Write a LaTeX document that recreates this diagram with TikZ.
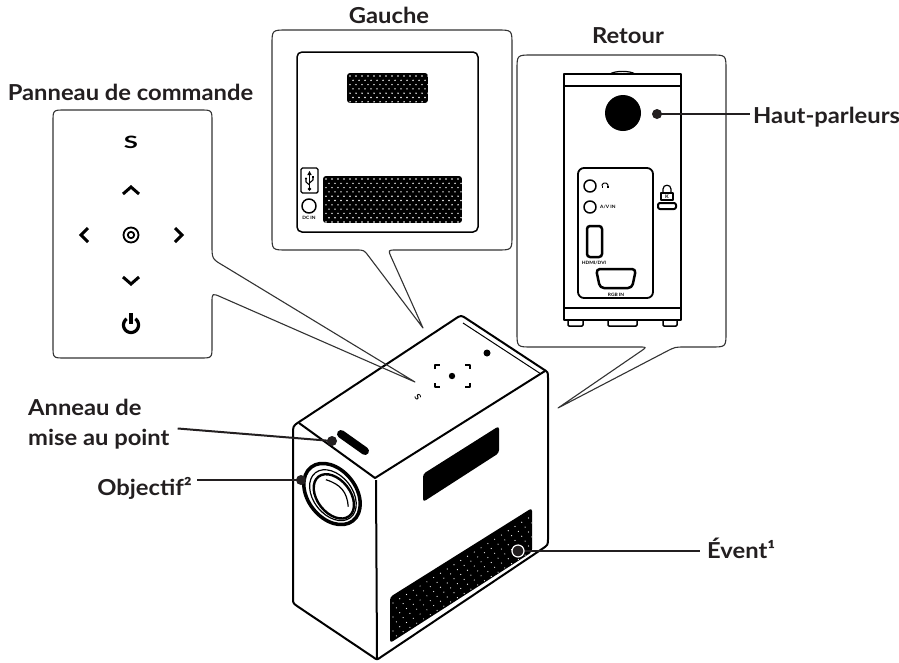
\documentclass[tikz,border=0pt]{standalone}
\usepackage{fontspec}
\usepackage{graphicx}
\setmainfont{Lato}[FakeStretch=1.08]
\usetikzlibrary{calc}
\definecolor{ink}{HTML}{231F20}
\definecolor{cline}{HTML}{333333}
\begin{document}
\begin{tikzpicture}[x=1pt,y=-1pt,line join=round,
  callout/.style={draw=cline,line width=1.1pt},
  edge/.style={draw=black,line width=2pt},
  fine/.style={draw=black,line width=1.5pt},
  lbl/.style={font=\fontsize{22}{25}\selectfont\bfseries,text=ink,inner sep=0pt},
  tinytxt/.style={font=\fontsize{4.5}{5}\selectfont\bfseries,inner sep=0pt},
  leader/.style={draw=ink,line width=2pt},
  chev/.style={draw=black,line width=3pt,line join=miter},
  ldot/.style={fill=ink}]
\fill[white] (0,0) rectangle (899,662);
\useasboundingbox (0,0) rectangle (899,662);

% ---------------- projector body ----------------
\draw[edge,fill=white] (293,434) .. controls (293,426) .. (299,422) -- (455,319)
  .. controls (461,315) .. (467,319) -- (543,369) .. controls (548,372) .. (548,378)
  -- (548,538) .. controls (548,545) .. (542,549) -- (381,657) .. controls (377,660) .. (373,657)
  -- (297,606) .. controls (293,603) .. (293,598) -- cycle;
\draw[edge] (299,423) -- (375,478) -- (545,371);
\draw[edge] (376,480) -- (377,658);
\draw[line width=1pt] (463,323) -- (541,374);
% vents
\fill[black,rounded corners=3pt] (423,474) -- (499,426) -- (499,453) -- (423,502) -- cycle;
\begin{scope}
  \clip[rounded corners=3pt] (390,597) -- (532,508) -- (532,552) -- (390,643) -- cycle;
  \fill[black] (380,500) rectangle (540,650);
  \foreach \i in {0,...,21}{\foreach \j in {0,...,6}{
    \fill[white] ($(393,603)+{\i+0.5*mod(\j,2)}*(6.776,-4.248)+\j*(0,7)$) circle[radius=0.6pt];}}
\end{scope}
% top controls
\node[font=\fontsize{8.5}{8.5}\selectfont\bfseries,rotate=125,inner sep=0pt] (topS) at (418,397) {S};
\draw[line width=1.8pt,line cap=butt] (435,369) -- (435,365) -- (440,365);
\draw[line width=1.8pt,line cap=butt] (465,365) -- (470,365) -- (470,369);
\draw[line width=1.8pt,line cap=butt] (435,383) -- (435,387) -- (440,387);
\draw[line width=1.8pt,line cap=butt] (465,387) -- (470,387) -- (470,383);
\fill (452,376) circle[radius=3.2pt];
\fill (487,353) circle[radius=3.5pt];
% focus ring slot
\draw[line width=8pt,line cap=round] (341,434) -- (365,451);
% lens
\begin{scope}[shift={(332,494)},rotate=-52]
  \draw[line width=3.5pt,fill=white] (0,0) ellipse[x radius=34pt,y radius=24pt];
  \draw[line width=1.2pt] (1.5,0) ellipse[x radius=28.5pt,y radius=19.5pt];
  \draw[line width=2.4pt] (3,0) ellipse[x radius=25pt,y radius=16.5pt];
  \draw[line width=1.2pt] (-15,-4) .. controls (-2,-13) and (8,-13) .. (20,-5);
\end{scope}

% ---------------- callouts ----------------
\draw[callout] (53,122) .. controls (53,110) .. (65,110) -- (200,110) .. controls (212,110) .. (212,122)
  -- (212,245) .. controls (212,259) .. (224,266) -- (415,382) -- (221,297)
  .. controls (212,293) .. (212,303) -- (212,346) .. controls (212,358) .. (200,358)
  -- (65,358) .. controls (53,358) .. (53,346) -- cycle;
\draw[callout] (272,45) .. controls (272,30) .. (287,30) -- (497,30) .. controls (512,30) .. (512,45)
  -- (512,235) .. controls (512,250) .. (497,250) -- (396,250) .. controls (388,250) .. (391.3,257.3)
  -- (423,328) -- (368.8,256.4) .. controls (364,250) .. (356,250) -- (287,250)
  .. controls (272,250) .. (272,235) -- cycle;
\draw[callout] (517,70) .. controls (517,55) .. (532,55) -- (711,55) .. controls (726,55) .. (726,70)
  -- (726,332) .. controls (726,347) .. (711,347) -- (685,347) .. controls (675,347) .. (666.1,351.6)
  -- (558,408) -- (640.4,351.5) .. controls (647,347) .. (639,347) -- (532,347)
  .. controls (517,347) .. (517,332) -- cycle;

% ---------------- control panel content ----------------
\node[inner sep=0pt] (panS) at (131,142) {\scalebox{1.4}[1]{\fontsize{17}{17}\selectfont\bfseries S}};
\draw[chev] (123,194) -- (131,187) -- (139,194);
\draw[chev] (123,277) -- (131,284) -- (139,277);
\draw[chev] (88,228) -- (81,235) -- (88,242);
\draw[chev] (175,228) -- (182,235) -- (175,242);
\draw[line width=1.8pt] (131,235) circle[radius=7.5pt];
\draw[line width=1.8pt] (131,235) circle[radius=3.2pt];
\draw[line width=3.2pt] plot[domain=-235:55,samples=40] ({131+7.5*cos(\x)},{325-7.5*sin(\x)});
\draw[line width=3.2pt] (131,313) -- (131,324);

% ---------------- left side (Gauche) content ----------------
\draw[fine,rounded corners=5pt] (297,52) rectangle (478,232);
\begin{scope}
  \clip[rounded corners=3pt] (347,73) rectangle (428,103);
  \fill[black] (347,73) rectangle (428,103);
  \foreach \i in {0,...,14}{\foreach \j in {0,...,6}{
    \fill[white] ({350+\i*6+mod(\j,2)*3},{76+\j*4.3}) circle[radius=0.8pt];}}
\end{scope}
\begin{scope}
  \clip[rounded corners=3pt] (323,176) rectangle (462,223);
  \fill[black] (323,176) rectangle (462,223);
  \foreach \i in {0,...,24}{\foreach \j in {0,...,10}{
    \fill[white] ({326+\i*6+mod(\j,2)*3},{179+\j*4.3}) circle[radius=0.8pt];}}
\end{scope}
\draw[line width=1.4pt,rounded corners=1.5pt] (301,168) rectangle (318,193);
\draw[line width=1.3pt] (309.5,174) -- (309.5,189);
\fill (307.3,175) -- (311.7,175) -- (309.5,171) -- cycle;
\fill (309.5,189) circle[radius=1.8pt];
\draw[line width=1.1pt] (309.5,185) -- (306,182) -- (306,179);
\fill (306,178.5) circle[radius=1.1pt];
\draw[line width=1.1pt] (309.5,183) -- (313,180) -- (313,177.5);
\fill (312,175.8) rectangle (314,177.8);
\draw[line width=1.5pt] (309,206) circle[radius=7pt];
\node[tinytxt] (dcin) at (309,218) {DC IN};

% ---------------- back (Retour) content ----------------
\draw[fine] (564,74) rectangle (681,320);
\draw[fine] (564,86) -- (681,86);
\draw[fine] (564,308) -- (681,308);
\draw[line width=1.2pt] (610,74) .. controls (615,70.5) and (630,70.5) .. (635,74);
\draw[fine,rounded corners=1pt] (568,320) -- (568,326) -- (583,326) -- (583,320);
\draw[fine,rounded corners=1pt] (608,320) -- (608,326) -- (637,326) -- (637,320);
\draw[fine,rounded corners=1pt] (663,320) -- (663,326) -- (677,326) -- (677,320);
\fill (623,113) circle[radius=18pt];
\draw[line width=1.8pt,rounded corners=6pt] (578,168) rectangle (653,298);
\draw[line width=1.5pt] (590,186) circle[radius=6pt];
\draw[line width=1.5pt] (590,207) circle[radius=6pt];
\draw[line width=1pt] plot[domain=0:180,samples=20] ({605+3*cos(\x)},{186-3*sin(\x)});
\fill (601.5,185.5) rectangle (603,188);
\fill (607,185.5) rectangle (608.5,188);
\node[tinytxt,anchor=west] (avin) at (600,207) {A/V IN};
\draw[line width=2.5pt,rounded corners=3pt] (587,226) rectangle (602,257);
\node[tinytxt] (hdmi) at (594,263) {HDMI/DVI};
\draw[line width=2.5pt,rounded corners=4pt] (596,269) -- (636,269) -- (632,288) -- (600,288) -- cycle;
\node[tinytxt] (rgbin) at (616,295) {RGB IN};
\draw[line width=1.2pt] (663,193) -- (663,189) .. controls (663,184) and (671,184) .. (671,189) -- (671,193);
\draw[line width=1.2pt] (661,193) rectangle (673,200);
\node[font=\fontsize{5}{5}\selectfont\bfseries,inner sep=0pt] (lockK) at (667,196.5) {K};
\draw[line width=2pt,rounded corners=2pt] (658,203) rectangle (676,209);

% ---------------- labels ----------------
\node[lbl,anchor=base] (panneau) at (130.5,100.5) {Panneau de commande};
\node[lbl,anchor=base] (gauche) at (389,23) {Gauche};
\node[lbl,anchor=base] (retour) at (628,43) {Retour};
\node[lbl,anchor=base west,inner xsep=3pt] (haut) at (750,123) {Haut-parleurs};
\node[lbl,anchor=base west] (anneau) at (28,415) {Anneau de};
\node[lbl,anchor=base west] (mise) at (28,445) {mise au point};
\node[lbl,anchor=base east,inner xsep=5pt] (objectif) at (197,495) {Objectif²};
\node[lbl,anchor=base west,inner xsep=7pt] (event) at (700,558) {Évent¹};

\coordinate (hautdot) at (657,114);
\coordinate (anneaudot) at (332,441);
\coordinate (objdot) at (301,480);
\coordinate (eventdot) at (518,551);
\draw[leader] (hautdot) -- (hautdot -| haut.west);
\draw[leader] ([xshift=8pt]mise.north east) -- (anneaudot);
\draw[leader] (objdot) -- (objdot -| objectif.east);
\draw[leader] (eventdot) -- (eventdot -| event.west);
\fill[ldot] (hautdot) circle[radius=5pt];
\fill[ldot] (anneaudot) circle[radius=5pt];
\fill[ldot] (objdot) circle[radius=5pt];
\filldraw[ldot,draw=white,line width=1.2pt] (eventdot) circle[radius=6pt];
\end{tikzpicture}
\end{document}
